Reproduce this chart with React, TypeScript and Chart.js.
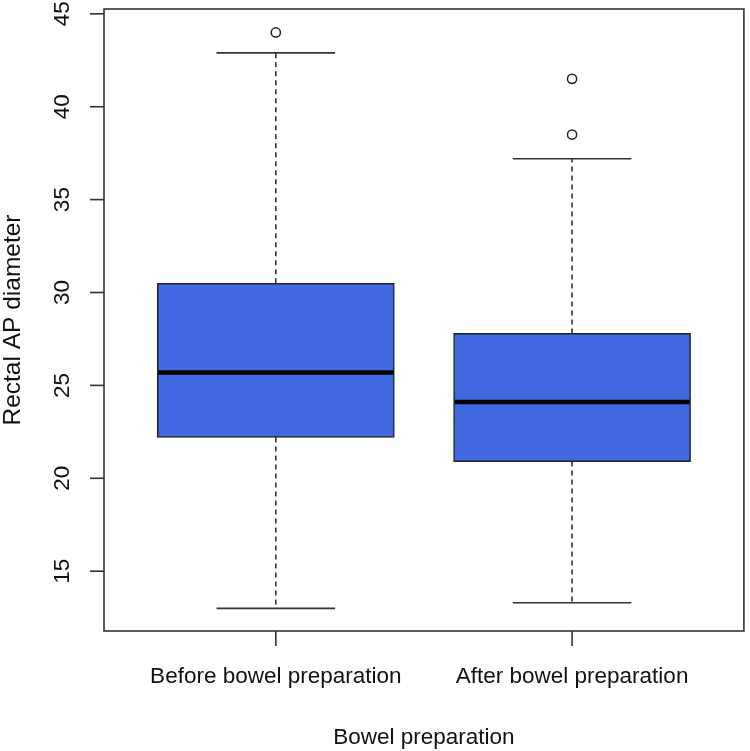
import React, { useEffect, useRef } from "react";
import { Chart, registerables } from "chart.js";

Chart.register(...registerables);

const categories = ["Before bowel preparation", "After bowel preparation"];
const positions = [1, 2];
const lowerWhisker = [13.0, 13.3];
const q1 = [22.2, 20.9];
const median = [25.7, 24.1];
const q3 = [30.5, 27.8];
const upperWhisker = [42.9, 37.2];
const outliers: number[][] = [[44.0], [41.5, 38.5]];
const yTicks = [15, 20, 25, 30, 35, 40, 45];
const yTitle = "Rectal AP diameter";
const xTitle = "Bowel preparation";

const FONT = '"Liberation Sans", Arial, sans-serif';
const BOX_WIDTH = 0.8;

const boxPlugin = {
  id: "rbox",
  beforeDatasetsDraw(chart: any) {
    const { ctx } = chart;
    const xs = chart.scales.x;
    const ys = chart.scales.y;
    ctx.save();
    ctx.strokeStyle = "#333";
    for (let i = 0; i < positions.length; i++) {
      const cx = xs.getPixelForValue(positions[i]);
      const capL = xs.getPixelForValue(positions[i] - BOX_WIDTH / 4);
      const capR = xs.getPixelForValue(positions[i] + BOX_WIDTH / 4);
      ctx.lineWidth = 1.6;
      ctx.setLineDash([5, 4]);
      ctx.beginPath();
      ctx.moveTo(cx, ys.getPixelForValue(q1[i]));
      ctx.lineTo(cx, ys.getPixelForValue(lowerWhisker[i]));
      ctx.moveTo(cx, ys.getPixelForValue(q3[i]));
      ctx.lineTo(cx, ys.getPixelForValue(upperWhisker[i]));
      ctx.stroke();
      ctx.setLineDash([]);
      ctx.beginPath();
      const lw = ys.getPixelForValue(lowerWhisker[i]);
      const uw = ys.getPixelForValue(upperWhisker[i]);
      ctx.moveTo(capL, lw);
      ctx.lineTo(capR, lw);
      ctx.moveTo(capL, uw);
      ctx.lineTo(capR, uw);
      ctx.stroke();
    }
    ctx.restore();
  },
  afterDatasetsDraw(chart: any) {
    const { ctx } = chart;
    const xs = chart.scales.x;
    const ys = chart.scales.y;
    ctx.save();
    ctx.strokeStyle = "#000";
    ctx.lineWidth = 4.5;
    for (let i = 0; i < positions.length; i++) {
      const l = xs.getPixelForValue(positions[i] - BOX_WIDTH / 2);
      const r = xs.getPixelForValue(positions[i] + BOX_WIDTH / 2);
      const m = ys.getPixelForValue(median[i]);
      ctx.beginPath();
      ctx.moveTo(l + 1, m);
      ctx.lineTo(r - 1, m);
      ctx.stroke();
    }
    ctx.restore();
  },
  afterDraw(chart: any) {
    const { ctx, chartArea } = chart;
    const xs = chart.scales.x;
    const ys = chart.scales.y;
    ctx.save();
    ctx.strokeStyle = "#333";
    ctx.lineWidth = 1.6;
    ctx.setLineDash([]);
    ctx.strokeRect(chartArea.left, chartArea.top, chartArea.right - chartArea.left, chartArea.bottom - chartArea.top);
    ctx.fillStyle = "#111";
    ctx.font = `22.5px ${FONT}`;
    for (const t of yTicks) {
      const y = ys.getPixelForValue(t);
      ctx.beginPath();
      ctx.moveTo(chartArea.left, y);
      ctx.lineTo(chartArea.left - 14, y);
      ctx.stroke();
      ctx.save();
      ctx.translate(chartArea.left - 41, y);
      ctx.rotate(-Math.PI / 2);
      ctx.textAlign = "center";
      ctx.textBaseline = "middle";
      ctx.fillText(String(t), 0, 0);
      ctx.restore();
    }
    for (let i = 0; i < positions.length; i++) {
      const x = xs.getPixelForValue(positions[i]);
      ctx.beginPath();
      ctx.moveTo(x, chartArea.bottom);
      ctx.lineTo(x, chartArea.bottom + 15);
      ctx.stroke();
      ctx.textAlign = "center";
      ctx.textBaseline = "middle";
      ctx.fillText(categories[i], x, chartArea.bottom + 46);
    }
    ctx.textAlign = "center";
    ctx.textBaseline = "middle";
    ctx.fillText(xTitle, (chartArea.left + chartArea.right) / 2, chartArea.bottom + 107);
    ctx.save();
    ctx.font = `24.5px ${FONT}`;
    ctx.translate(13, (chartArea.top + chartArea.bottom) / 2);
    ctx.rotate(-Math.PI / 2);
    ctx.fillText(yTitle, 0, 0);
    ctx.restore();
    ctx.restore();
  },
};

export default function App() {
  const ref = useRef<HTMLCanvasElement>(null);
  useEffect(() => {
    if (!ref.current) return;
    const outlierPoints: { x: number; y: number }[] = [];
    outliers.forEach((arr, i) => arr.forEach((v) => outlierPoints.push({ x: positions[i], y: v })));
    const chart = new Chart(ref.current, {
      type: "bar",
      data: {
        datasets: [
          {
            type: "bar",
            data: positions.map((p, i) => ({ x: p, y: [q1[i], q3[i]] })) as any,
            backgroundColor: "#4169E1",
            borderColor: "#222",
            borderWidth: 1.5,
            borderSkipped: false,
            barThickness: (c: any) => {
              const xs = c.chart.scales.x;
              return xs.getPixelForValue(1 + BOX_WIDTH / 2) - xs.getPixelForValue(1 - BOX_WIDTH / 2);
            },
          } as any,
          {
            type: "scatter",
            data: outlierPoints as any,
            backgroundColor: "rgba(255,255,255,0)",
            borderColor: "#222",
            borderWidth: 1.5,
            pointRadius: 4.6,
            pointStyle: "circle",
          } as any,
        ],
      },
      options: {
        responsive: false,
        animation: false,
        layout: { padding: { left: 104, top: 9, right: 2, bottom: 120 } },
        plugins: { legend: { display: false }, tooltip: { enabled: false } },
        scales: {
          x: { type: "linear", min: 0.42, max: 2.58, display: false, offset: false },
          y: { type: "linear", min: 11.78, max: 45.26, display: false },
        },
      },
      plugins: [boxPlugin],
    });
    return () => chart.destroy();
  }, []);
  return (
    <div style={{ position: "absolute", left: 0, top: 0, width: 750, height: 751, background: "#fff" }}>
      <canvas ref={ref} width={750} height={751} />
    </div>
  );
}
